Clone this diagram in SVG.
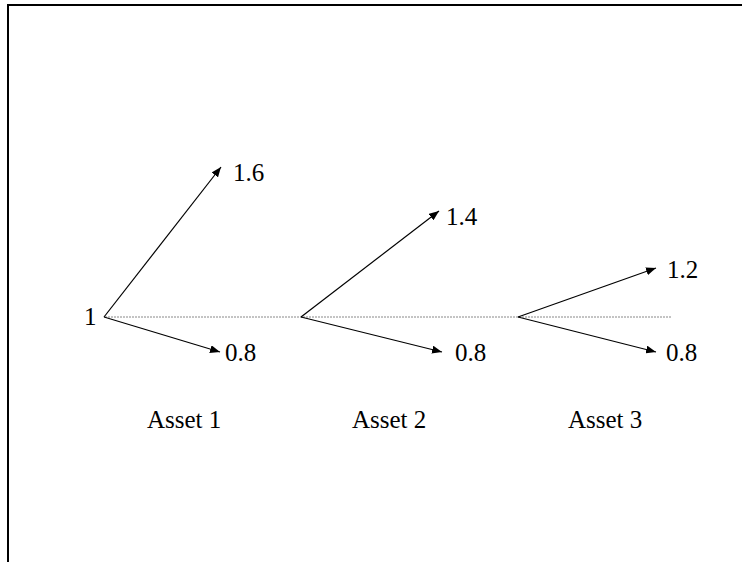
<svg xmlns="http://www.w3.org/2000/svg" width="742" height="562" viewBox="0 0 742 562">
<defs>
<marker id="ah" viewBox="0 0 10 8" refX="10" refY="4" markerWidth="10" markerHeight="8" markerUnits="userSpaceOnUse" orient="auto">
<path d="M0,0 L10,4 L0,8 Z" fill="#000"/>
</marker>
</defs>
<style>
.t{font-family:"Liberation Serif","Times New Roman",serif;font-size:25px;fill:#000}
.a{stroke:#000;stroke-width:1.2;fill:none;marker-end:url(#ah)}
.d{stroke:#888;stroke-width:1;stroke-dasharray:2,1;fill:none}
.b{stroke:#000;stroke-width:2;fill:none}
</style>
<rect width="742" height="562" fill="#fff"/>
<path class="b" d="M8,562 V5 H742"/>
<g id="connectors">
<line class="d" x1="105" y1="317" x2="672" y2="317"/>
<line class="a" x1="104" y1="317" x2="221" y2="167"/>
<line class="a" x1="104" y1="317" x2="220" y2="352"/>
<line class="a" x1="301" y1="317" x2="439" y2="211"/>
<line class="a" x1="301" y1="317" x2="442" y2="352"/>
<line class="a" x1="518" y1="317" x2="656" y2="268"/>
<line class="a" x1="518" y1="317" x2="656" y2="352"/>
</g>
<g id="root"><text class="t" x="84" y="325">1</text></g>
<g id="a1-up"><text class="t" x="233" y="181">1.6</text></g>
<g id="a1-down"><text class="t" x="225" y="361">0.8</text></g>
<g id="a2-up"><text class="t" x="446" y="225">1.4</text></g>
<g id="a2-down"><text class="t" x="455" y="361">0.8</text></g>
<g id="a3-up"><text class="t" x="667" y="278">1.2</text></g>
<g id="a3-down"><text class="t" x="666" y="361">0.8</text></g>
<g id="label1"><text class="t" x="147" y="428">Asset 1</text></g>
<g id="label2"><text class="t" x="352" y="428">Asset 2</text></g>
<g id="label3"><text class="t" x="568" y="428">Asset 3</text></g>
</svg>
